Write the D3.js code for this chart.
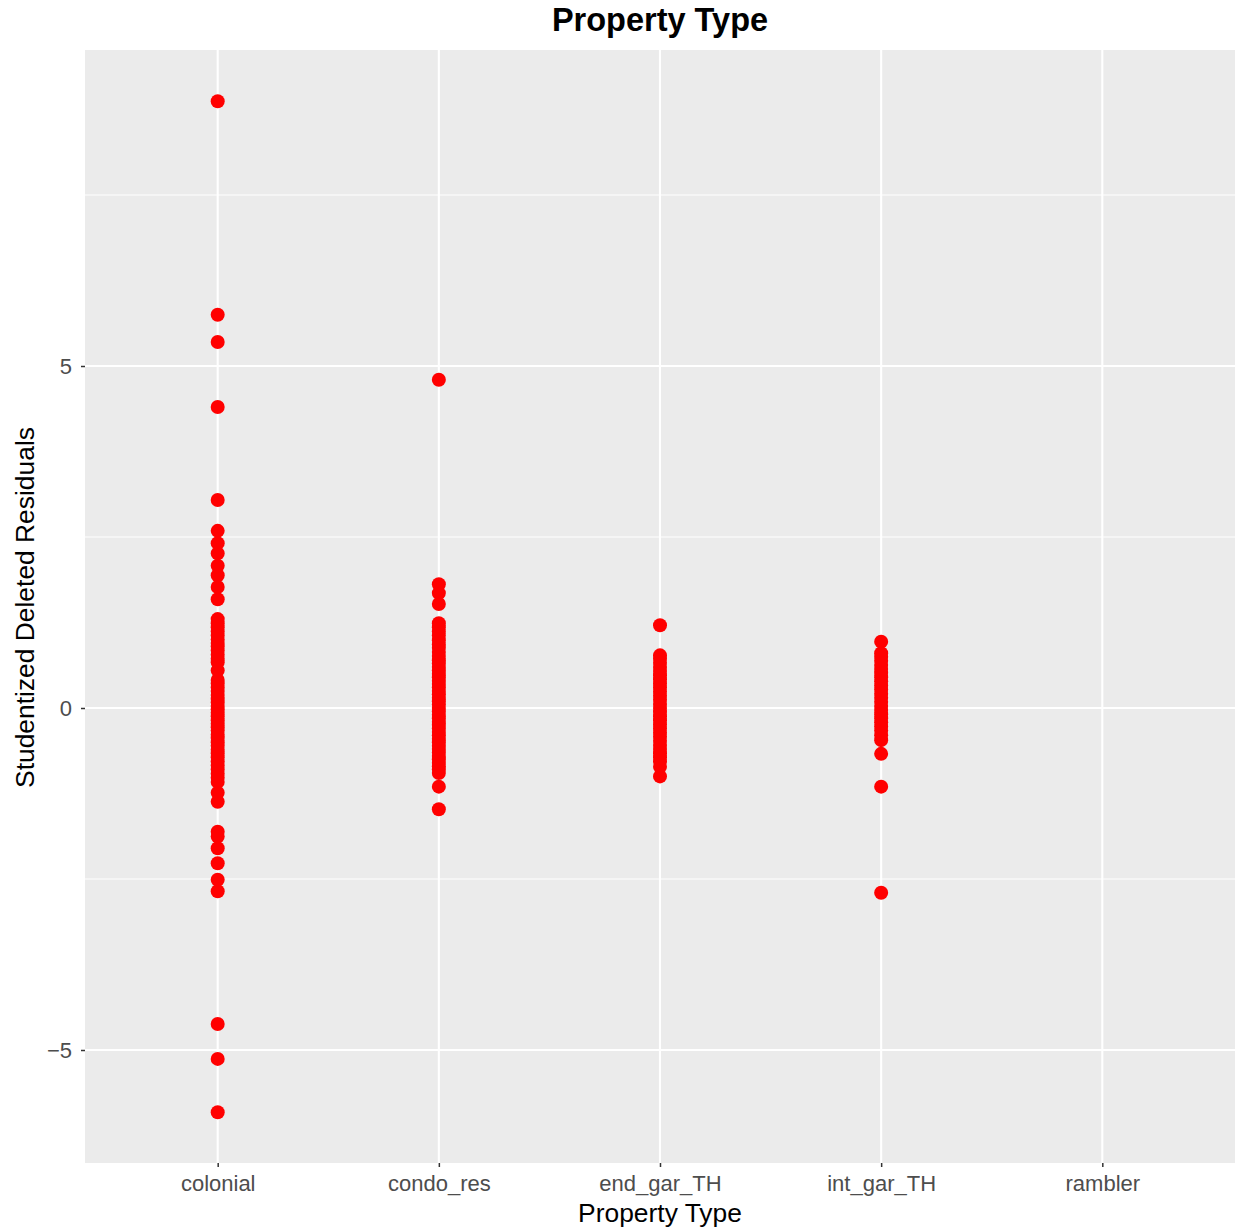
<!DOCTYPE html>
<html>
<head>
<meta charset="utf-8">
<script src="https://cdn.jsdelivr.net/npm/d3@7"></script>
<style>
  body { margin: 0; background: #fff; }
  svg { display: block; font-family: "Liberation Sans", Arial, sans-serif; }
</style>
</head>
<body>
<svg id="chart"></svg>
<script>
// categories on the x axis
const categories = ["colonial", "condo_res", "end_gar_TH", "int_gar_TH", "rambler"];

// studentized deleted residuals, one array per category
const colonialVals = [8.87, 5.75, 5.35, 4.40, 3.04, 2.59, 2.41, 2.26, 2.08, 1.94, 1.77, 1.59,
  1.30, 1.24, 1.18, 1.12, 1.06, 1.00, 0.95, 0.90, 0.84, 0.78, 0.72, 0.67, 0.55,
  0.41, 0.36, 0.30, 0.25, 0.19, 0.13, 0.08, 0.03, -0.02, -0.07, -0.12, -0.18, -0.23,
  -0.28, -0.33, -0.39, -0.44, -0.50, -0.55, -0.61, -0.66, -0.72, -0.78, -0.84, -0.90,
  -0.96, -1.02, -1.08, -1.24, -1.37, -1.81, -1.88, -2.05, -2.27, -2.51, -2.68,
  -4.62, -5.13, -5.91];
const condoVals = [4.80, 1.81, 1.68, 1.52, 1.24, 1.18, 1.12, 1.06, 0.99, 0.93, 0.88, 0.82,
  0.76, 0.70, 0.65, 0.60, 0.55, 0.50, 0.45, 0.40, 0.35, 0.30, 0.25, 0.20, 0.15, 0.10,
  0.05, 0.00, -0.05, -0.10, -0.15, -0.20, -0.25, -0.30, -0.35, -0.40, -0.45, -0.50,
  -0.55, -0.60, -0.65, -0.70, -0.75, -0.80, -0.85, -0.90, -0.95, -1.15, -1.48];
const endGarVals = [1.21, 0.77, 0.72, 0.66, 0.60, 0.54, 0.48, 0.42, 0.36, 0.30, 0.24, 0.18,
  0.12, 0.06, 0.00, -0.06, -0.12, -0.18, -0.24, -0.30, -0.36, -0.42, -0.48, -0.54,
  -0.60, -0.66, -0.72, -0.78, -0.86, -1.00];
const intGarVals = [0.97, 0.80, 0.75, 0.69, 0.63, 0.57, 0.51, 0.45, 0.39, 0.33, 0.27, 0.21,
  0.15, 0.09, 0.03, -0.03, -0.09, -0.15, -0.21, -0.27, -0.33, -0.40, -0.47, -0.67,
  -1.15, -2.70];
const ramblerVals = [];

// tick values
const yTicks = [-5, 0, 5];
const yMinor = [-2.5, 2.5, 7.5];

const seriesByCat = {
  colonial: colonialVals,
  condo_res: condoVals,
  end_gar_TH: endGarVals,
  int_gar_TH: intGarVals,
  rambler: ramblerVals
};

const svgWidth = 1238, svgHeight = 1230;
const margin = {left: 85, right: 3, top: 50, bottom: 67};
const width = svgWidth - margin.left - margin.right;
const height = svgHeight - margin.top - margin.bottom;

const svg = d3.select("#chart")
  .attr("width", svgWidth)
  .attr("height", svgHeight);

const xScale = d3.scalePoint() // discrete axis, ggplot-like 0.6 expansion
  .domain(categories)
  .range([0, width])
  .padding(0.6);

const yScale = d3.scaleLinear()
  .domain([-6.652, 9.62])
  .range([height, 0]);

const g = svg.append("g")
  .attr("transform", `translate(${margin.left}, ${margin.top})`);

// panel background
g.append("rect")
  .attr("width", width)
  .attr("height", height)
  .attr("fill", "#EBEBEB");

// minor grid
g.selectAll(".minor")
  .data(yMinor)
  .enter()
  .append("line")
  .attr("x1", 0).attr("x2", width)
  .attr("y1", d => yScale(d)).attr("y2", d => yScale(d))
  .attr("stroke", "#fff")
  .attr("stroke-width", 1.05);

// major grid
g.selectAll(".majorY")
  .data(yTicks)
  .enter()
  .append("line")
  .attr("x1", 0).attr("x2", width)
  .attr("y1", d => yScale(d)).attr("y2", d => yScale(d))
  .attr("stroke", "#fff")
  .attr("stroke-width", 2.1);

g.selectAll(".majorX")
  .data(categories)
  .enter()
  .append("line")
  .attr("x1", d => xScale(d)).attr("x2", d => xScale(d))
  .attr("y1", 0).attr("y2", height)
  .attr("stroke", "#fff")
  .attr("stroke-width", 2.1);

// points
const points = categories.flatMap(c => seriesByCat[c].map(v => ({cat: c, value: v})));
g.selectAll("circle")
  .data(points)
  .enter()
  .append("circle")
  .attr("cx", d => xScale(d.cat))
  .attr("cy", d => yScale(d.value))
  .attr("r", 7)
  .attr("fill", "#FF0000");

// axes
const yAxis = d3.axisLeft(yScale)
  .tickValues(yTicks)
  .tickSize(4)
  .tickPadding(9);

const xAxis = d3.axisBottom(xScale)
  .tickSize(4)
  .tickPadding(8);

const yG = g.append("g").call(yAxis);
const xG = g.append("g").attr("transform", `translate(0, ${height})`).call(xAxis);

[yG, xG].forEach(ax => {
  ax.select(".domain").remove();
  ax.selectAll(".tick line").attr("stroke", "#333333").attr("stroke-width", 1.5);
  ax.selectAll(".tick text")
    .attr("fill", "#4D4D4D")
    .style("font-size", "22px")
    .style("font-family", "'Liberation Sans', Arial, sans-serif");
});

// titles
svg.append("text")
  .attr("x", margin.left + width / 2)
  .attr("y", 31)
  .attr("text-anchor", "middle")
  .style("font-size", "32.5px")
  .style("font-weight", "bold")
  .text("Property Type");

svg.append("text")
  .attr("x", margin.left + width / 2)
  .attr("y", 1222)
  .attr("text-anchor", "middle")
  .style("font-size", "26.4px")
  .text("Property Type");

svg.append("text")
  .attr("transform", `translate(34, ${margin.top + height / 2 + 1}) rotate(-90)`)
  .attr("text-anchor", "middle")
  .style("font-size", "26.4px")
  .text("Studentized Deleted Residuals");
</script>
</body>
</html>
